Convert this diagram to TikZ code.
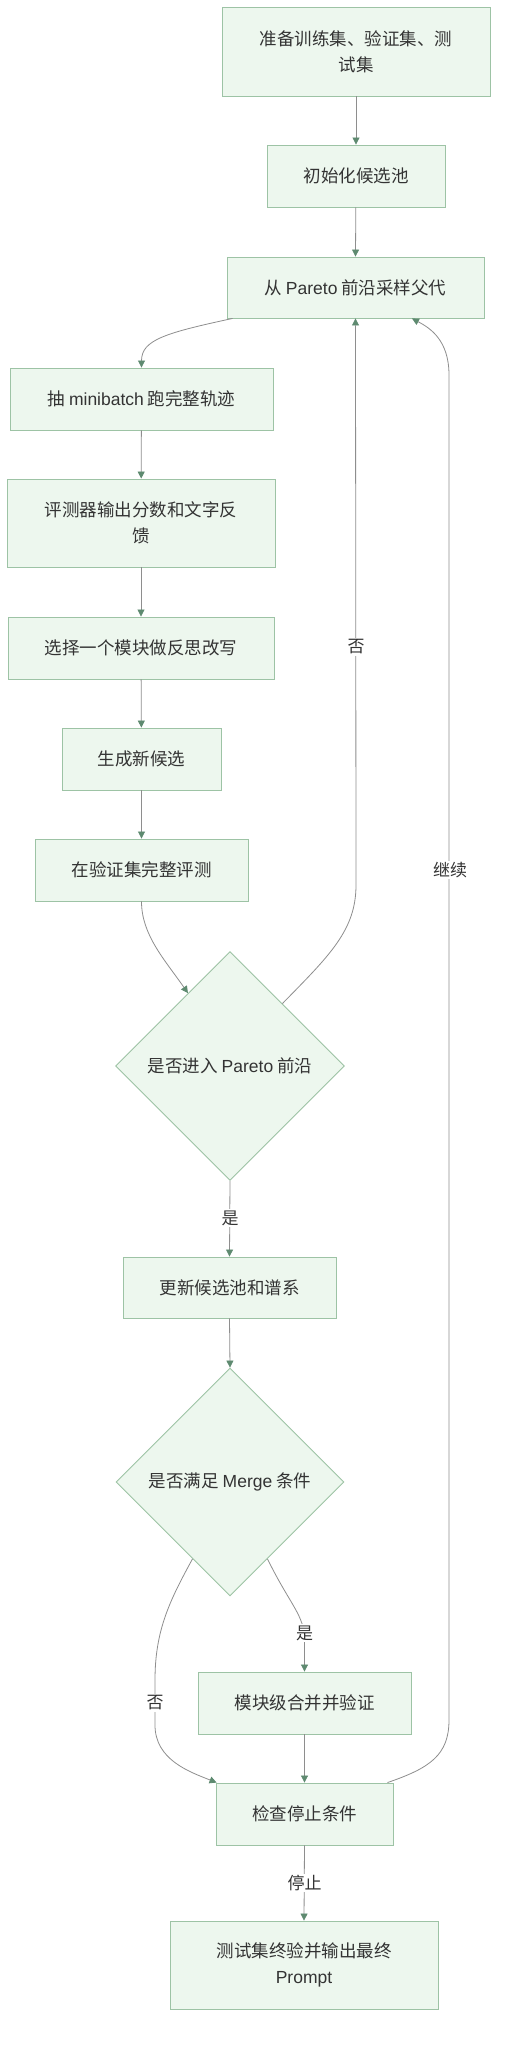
\documentclass[tikz,border=0pt]{standalone}
\usepackage{fontspec}
\setmainfont{Noto Sans CJK SC}
\newfontfamily\lat{Liberation Sans}
\usetikzlibrary{shapes.geometric,arrows.meta}
\definecolor{boxfill}{HTML}{EDF7EE}
\definecolor{boxdraw}{HTML}{9DC3A5}
\definecolor{linec}{HTML}{8E8E8E}
\definecolor{tipc}{HTML}{5E8A70}
\definecolor{txt}{HTML}{333333}
\begin{document}
\begin{tikzpicture}[x=1pt,y=-1pt,
  box/.style={draw=boxdraw,fill=boxfill,line width=0.9pt,align=center,inner sep=2pt,text=txt,font=\fontsize{17.5}{26}\selectfont},
  dia/.style={box,shape=diamond,aspect=1,inner sep=0pt},
  conn/.style={draw=linec,line width=0.8pt,-{Triangle[width=7pt,length=7pt,color=tipc,fill=tipc]}},
  lbl/.style={fill=white,text=txt,inner sep=1.5pt,font=\fontsize{17}{20}\selectfont}]
\path[use as bounding box,fill=white] (0,0) rectangle (506,2051);

\node[box,minimum width=268pt,minimum height=89pt] (b1) at (356,51.5) {准备训练集、验证集、测\\试集};
\node[box,minimum width=178pt,minimum height=62pt] (b2) at (356,176) {初始化候选池};
\node[box,minimum width=257pt,minimum height=61pt] (b3) at (355.5,287.5) {从 {\lat Pareto} 前沿采样父代};
\node[box,minimum width=263pt,minimum height=62pt] (b4) at (141.5,399) {抽 {\lat minibatch} 跑完整轨迹};
\node[box,minimum width=268pt,minimum height=88pt] (b5) at (141,523) {评测器输出分数和文字反\\馈};
\node[box,minimum width=266pt,minimum height=62pt] (b6) at (141,648) {选择一个模块做反思改写};
\node[box,minimum width=159pt,minimum height=62pt] (b7) at (141.5,759) {生成新候选};
\node[box,minimum width=213pt,minimum height=62pt] (b8) at (141.5,870) {在验证集完整评测};
\node[dia,minimum width=229pt,minimum height=229pt] (d1) at (230,1066) {是否进入 {\lat Pareto} 前沿};
\node[box,minimum width=213pt,minimum height=61pt] (b9) at (229.5,1287.5) {更新候选池和谱系};
\node[dia,minimum width=228pt,minimum height=228pt] (d2) at (230,1482) {是否满足 {\lat Merge} 条件};
\node[box,minimum width=213pt,minimum height=62pt] (b10) at (304.5,1703) {模块级合并并验证};
\node[box,minimum width=177pt,minimum height=62pt] (b11) at (304.5,1814) {检查停止条件};
\node[box,minimum width=268pt,minimum height=88pt] (b12) at (304,1965) {测试集终验并输出最终\\{\lat Prompt}};

% straight connectors
\draw[conn] (b1) -- (b2);
\draw[conn] (b2) -- (b3.north);
\draw[conn] (b4) -- (b5);
\draw[conn] (b5) -- (b6);
\draw[conn] (b6) -- (b7);
\draw[conn] (b7) -- (b8);
\draw[conn] (b9.south) -- (d2.north);
\draw[conn] (b10.south) -- (b11.north);

% curved connectors
\draw[conn] ([xshift=6pt]b3.south west) .. controls (165,333) and (141.5,340) .. (b4.north);
\draw[conn] (b8.south) .. controls (141.5,935) and (165,960) .. (d1.120);
\draw[conn] (d1.50) .. controls (330,955) and (356,930) .. (356,885) -- (b3.south);
\draw[conn] ([xshift=-6pt]b11.north east) .. controls (430,1768) and (449,1755) .. (449,1720) -- (449,375) .. controls (449,340) and (430,328) .. ([xshift=56.5pt]b3.south);
\draw[conn] (d1.south) -- (b9.north);
\draw[conn] (d2.-64) .. controls (290,1605) and (304.5,1615) .. (304.5,1640) -- (b10.north);
\draw[conn] (d2.-116) .. controls (170,1600) and (155,1630) .. (155,1680) -- (155,1725) .. controls (155,1760) and (190,1772) .. ([xshift=1pt]b11.north west);
\draw[conn] (b11.south) -- (b12.north);

% labels
\node[lbl] (l1) at (356,647) {否};
\node[lbl] (l2) at (450,870) {继续};
\node[lbl] (l3) at (230,1218) {是};
\node[lbl] (l4) at (304.5,1633) {是};
\node[lbl] (l5) at (155,1703) {否};
\node[lbl] (l6) at (304.5,1883) {停止};
\end{tikzpicture}
\end{document}
